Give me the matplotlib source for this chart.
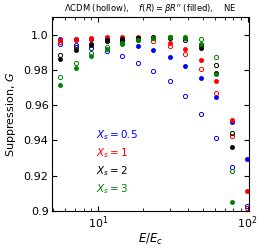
import numpy as np
import matplotlib
matplotlib.use("Agg")
import matplotlib.pyplot as plt
import matplotlib.ticker as ticker

# E/E_c sample points (13 columns)
energy = [5.53, 7.08, 8.93, 11.4, 14.5, 18.4, 23.4, 30.0, 38.2, 48.4, 61.6, 78.5, 99.1]

# Suppression G; "fR" = f(R) (filled), "lcdm" = LCDM (hollow)
g_fR_05 = [0.9976, 0.9977, 0.9976, 0.9980, 0.9958, 0.9937, 0.9912, 0.9875, 0.9824, 0.9751, 0.9648, 0.9503, 0.9295]
g_lcdm_05 = [0.9948, 0.9941, 0.9926, 0.9907, 0.9879, 0.9841, 0.9794, 0.9734, 0.9654, 0.9550, 0.9415, 0.9248, 0.9026]
g_fR_1 = [0.9967, 0.9976, 0.9980, 0.9986, 0.9988, 0.9987, 0.9985, 0.9954, 0.9920, 0.9855, 0.9734, 0.9517, 0.9113]
g_lcdm_1 = [0.9960, 0.9970, 0.9975, 0.9980, 0.9980, 0.9980, 0.9961, 0.9935, 0.9890, 0.9807, 0.9669, 0.9426, 0.9019]
g_fR_2 = [0.9862, 0.9913, 0.9939, 0.9972, 0.9973, 0.9982, 0.9987, 0.9985, 0.9980, 0.9922, 0.9780, 0.9364, np.nan]
g_lcdm_2 = [0.9883, 0.9928, 0.9948, 0.9965, 0.9970, 0.9980, 0.9982, 0.9980, 0.9970, 0.9940, 0.9828, 0.9441, np.nan]
g_fR_3 = [0.9714, 0.9811, 0.9877, 0.9916, 0.9948, 0.9967, 0.9980, 0.9986, 0.9984, 0.9945, 0.9779, 0.9052, np.nan]
g_lcdm_3 = [0.9757, 0.9841, 0.9896, 0.9928, 0.9950, 0.9970, 0.9980, 0.9986, 0.9980, 0.9973, 0.9875, 0.9225, np.nan]

labels = ["$X_s = 0.5$", "$X_s = 1$", "$X_s = 2$", "$X_s = 3$"]
colors = ["#0000ff", "#ff0000", "#000000", "#008000"]
series = [(g_fR_05, g_lcdm_05), (g_fR_1, g_lcdm_1),
          (g_fR_2, g_lcdm_2), (g_fR_3, g_lcdm_3)]

fig = plt.figure(figsize=(2.64, 2.49), dpi=100)
ax = fig.add_axes([0.197, 0.153, 0.746, 0.779])

for (filled, hollow), c in zip(series, colors):
    ax.plot(energy, hollow, "o", ms=3.0, mfc="none", mec=c, mew=0.7, ls="none")
    ax.plot(energy, filled, "o", ms=3.0, mfc=c, mec=c, mew=0.5, ls="none")

ax.set_xscale("log")
ax.set_xlim(4.9, 102)
ax.set_ylim(0.9, 1.01)

yt = [0.9, 0.92, 0.94, 0.96, 0.98, 1.0]
ax.set_yticks(yt)
ax.set_yticklabels(["0.9", "0.92", "0.94", "0.96", "0.98", "1.0"])
ax.xaxis.set_major_locator(ticker.LogLocator(base=10))
ax.xaxis.set_minor_locator(ticker.LogLocator(base=10, subs=np.arange(2, 10)))
ax.xaxis.set_minor_formatter(ticker.NullFormatter())
ax.tick_params(which="both", direction="in", top=True, right=True, labelsize=8)
ax.tick_params(which="major", length=3.5, width=0.8, pad=2.5)
ax.tick_params(which="minor", length=2, width=0.6)
for s in ax.spines.values():
    s.set_linewidth(0.8)

ax.set_xlabel("$E/E_c$", fontsize=8.5, labelpad=1)
ax.set_ylabel("Suppression, $G$", fontsize=8)
ax.set_title(r"$\Lambda$CDM (hollow),    $f(R) = \beta R^n$ (filled),    NE",
             fontsize=6, pad=4)

for i, (lab, c) in enumerate(zip(labels, colors)):
    ax.text(0.225, 0.392 - i * 0.093, lab, color=c, fontsize=7.5,
            transform=ax.transAxes, va="center", ha="left")

plt.savefig("out.png", dpi=100)
